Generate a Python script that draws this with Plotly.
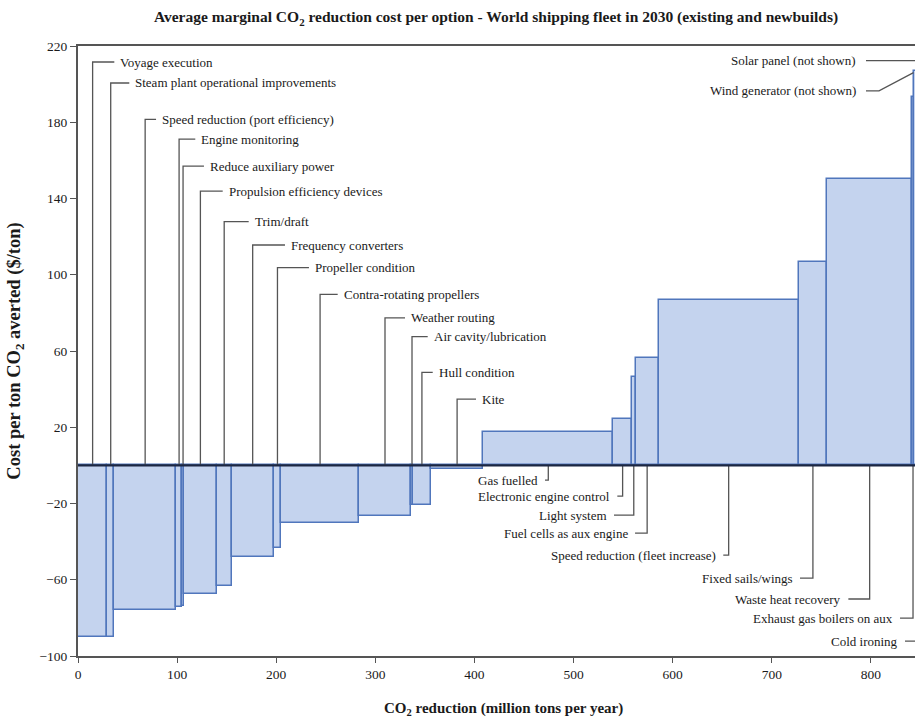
import plotly.graph_objects as go

# ---------------- data ----------------
options = [
    "Voyage execution", "Steam plant operational improvements", "Speed reduction (port efficiency)",
    "Engine monitoring", "Reduce auxiliary power", "Propulsion efficiency devices", "Trim/draft",
    "Frequency converters", "Propeller condition", "Contra-rotating propellers", "Weather routing",
    "Air cavity/lubrication", "Hull condition", "Kite",
    "Gas fuelled", "Electronic engine control", "Light system", "Fuel cells as aux engine",
    "Speed reduction (fleet increase)", "Fixed sails/wings", "Waste heat recovery",
    "Exhaust gas boilers on aux", "Cold ironing",
]
reduction = [29.5, 7, 62.5, 6, 2, 33, 15, 42.5, 7.5, 78.5, 52.5, 2, 18, 53,
             131, 19, 3.5, 23.5, 141, 29, 85.5, 2, 5]          # million t CO2 / year
cost = [-90, -90, -76, -74.5, -74, -67.5, -63.5, -48, -43.5, -30, -26.5, -21, -21, -2,
        17.5, 24.5, 46.5, 56.5, 87, 106.5, 150, 193, 207]      # $/ton
not_shown = ["Solar panel (not shown)", "Wind generator (not shown)"]
y_ticks = [-100, -60, -20, 20, 60, 100, 140, 180, 220]
x_ticks = [0, 100, 200, 300, 400, 500, 600, 700, 800]

# ---------------- label layout (positions of callouts) ----------------
label_y = [211.6, 200.6, 181.5, 171.2, 157.0, 143.9, 127.9, 115.6, 103.7, 89.7, 77.4, 67.5, 48.8, 34.8,
           -7.7, -16.1, -26.1, -35.5, -47.1, -59.1, -70.1, -80.1, -92.2]
label_dx = [25.7, 22.6, 14.9, 20.2, 24.9, 26.3, 28.5, 36.3, 35.5, 21.6, 24, 19.7, 14.8, 22.9,
            8.3, 10.3, 24.8, 17.1, 10.4, 17.9, 26.3, 18, 16.5]   # px between leader and text

W, H = 915, 722
ML, MR, MT, MB = 78, 0, 46, 66
XMAX = 844.5
YMIN, YMAX = -100, 220
ppu = (W - ML - MR) / XMAX          # px per x unit

# cumulative positions
lefts, mids = [], []
acc = 0.0
for w in reduction:
    lefts.append(acc)
    mids.append(acc + w / 2)
    acc += w

FONT = "Liberation Serif"
TXT = "#1a1a1a"
LEAD = "#555555"

fig = go.Figure()
fig.add_trace(go.Bar(
    x=mids, y=cost, width=reduction, base=0,
    marker=dict(color="rgb(196,211,238)", line=dict(color="rgb(80,118,188)", width=1.5)),
    hoverinfo="skip", showlegend=False,
))

# leader lines
lx, ly = [], []
annotations = []
for i, name in enumerate(options):
    m = mids[i]
    yy = label_y[i]
    dx = label_dx[i] / ppu
    if cost[i] < 0:
        lx += [m, m, m + dx - 4 / ppu, None]
        ly += [0, yy, yy, None]
        annotations.append(dict(x=m + dx, y=yy, text=name, xanchor="left", yanchor="middle",
                                showarrow=False, font=dict(family=FONT, size=13, color=TXT)))
    else:
        lx += [m, m, m - dx + 5 / ppu, None]
        ly += [0, yy, yy, None]
        annotations.append(dict(x=m - dx, y=yy, text=name, xanchor="right", yanchor="middle",
                                showarrow=False, font=dict(family=FONT, size=13, color=TXT)))

# "not shown" callouts at the top right
solar_y, wind_y = 212.3, 196.5
txt_end = XMAX - 57 / ppu
lx += [txt_end + 8 / ppu, XMAX + 5, None]
ly += [solar_y, solar_y, None]
lx += [txt_end + 8 / ppu, txt_end + 21 / ppu, lefts[-1] - 0.5, None]
ly += [wind_y, wind_y, cost[-1] - 1, None]
annotations.append(dict(x=txt_end, y=solar_y, text=not_shown[0], xanchor="right", yanchor="middle",
                        showarrow=False, font=dict(family=FONT, size=13, color=TXT)))
annotations.append(dict(x=txt_end, y=wind_y, text=not_shown[1], xanchor="right", yanchor="middle",
                        showarrow=False, font=dict(family=FONT, size=13, color=TXT)))

fig.add_trace(go.Scatter(x=lx, y=ly, mode="lines", line=dict(color=LEAD, width=1.3),
                         hoverinfo="skip", showlegend=False, cliponaxis=True))

# x-axis title
annotations.append(dict(xref="paper", yref="paper", x=(503 - ML) / (W - ML - MR),
                        y=-(720 - (H - MB)) / (H - MT - MB),
                        xanchor="center", yanchor="bottom", showarrow=False,
                        text="<b>CO<sub>2</sub> reduction (million tons per year)</b>",
                        font=dict(family=FONT, size=15, color=TXT)))

fig.update_layout(
    width=W, height=H,
    margin=dict(l=ML, r=MR, t=MT, b=MB),
    paper_bgcolor="white", plot_bgcolor="white",
    title=dict(text="<b>Average marginal CO<sub>2</sub> reduction cost per option - World shipping fleet in 2030 (existing and newbuilds)</b>",
               x=496 / W, xanchor="center", y=1 - 17 / H, yanchor="middle",
               font=dict(family=FONT, size=15.5, color=TXT)),
    annotations=annotations,
    shapes=[dict(type="line", xref="paper", yref="y", x0=0, x1=1, y0=0, y1=0,
                 line=dict(color="#1c2742", width=2.2), layer="above")],
    bargap=0,
)
fig.update_xaxes(range=[0, XMAX], tickvals=x_ticks, ticks="outside", ticklen=5, tickcolor="#555",
                 showline=True, linecolor="#555", linewidth=2, mirror=True, showgrid=False, zeroline=False,
                 tickfont=dict(family=FONT, size=13.5, color=TXT))
fig.update_yaxes(range=[YMIN, YMAX], tickvals=y_ticks, ticks="outside", ticklen=6, tickcolor="#555",
                 showline=True, linecolor="#555", linewidth=2, mirror=False, showgrid=False, zeroline=False,
                 tickfont=dict(family=FONT, size=13.5, color=TXT),
                 title=dict(text="<b>Cost per ton CO<sub>2</sub> averted ($/ton)</b>", standoff=14,
                            font=dict(family=FONT, size=18.5, color=TXT)))

fig.write_html("out.html")
